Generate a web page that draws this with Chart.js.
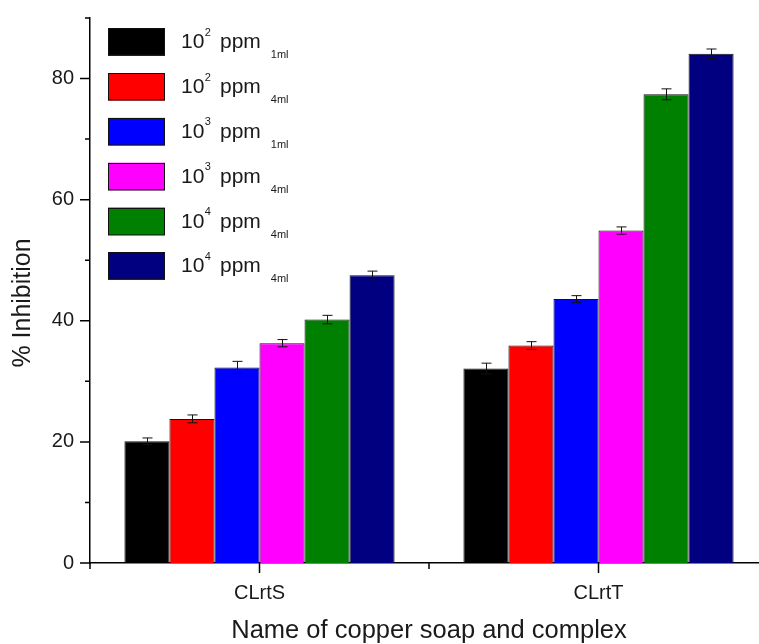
<!DOCTYPE html>
<html>
<head>
<meta charset="utf-8">
<script src="https://cdn.jsdelivr.net/npm/chart.js@4.4.1/dist/chart.umd.min.js"></script>
<style>
html,body{margin:0;padding:0;background:#fff;overflow:hidden;width:759px;height:644px;}
canvas{display:block;}
</style>
</head>
<body>
<canvas id="c" width="780" height="644"></canvas>
<script>
// ---- data ----
const categories = ['CLrtS', 'CLrtT'];
const exponents = ['2', '2', '3', '3', '4', '4'];
const volumes = ['1ml', '4ml', '1ml', '4ml', '4ml', '4ml'];
const ppm2_1ml = [20.1, 32.1];
const ppm2_4ml = [23.8, 35.9];
const ppm3_1ml = [32.3, 43.6];
const ppm3_4ml = [36.3, 54.9];
const ppm4_4mlA = [40.2, 77.4];
const ppm4_4mlB = [47.5, 84.1];
const err2_1ml = [0.55, 0.9];
const err2_4ml = [0.65, 0.65];
const err3_1ml = [1.0, 0.55];
const err3_4ml = [0.6, 0.6];
const err4_4mlA = [0.7, 0.9];
const err4_4mlB = [0.7, 0.78];
const yMajorTicks = [0, 20, 40, 60, 80];
const yMinorTicks = [10, 30, 50, 70, 90];
const xTitle = 'Name of copper soap and complex';
const yTitle = '% Inhibition';

const seriesValues = [ppm2_1ml, ppm2_4ml, ppm3_1ml, ppm3_4ml, ppm4_4mlA, ppm4_4mlB];
const seriesErrors = [err2_1ml, err2_4ml, err3_1ml, err3_4ml, err4_4mlA, err4_4mlB];
const colors = ['#000000', '#ff0000', '#0000ff', '#ff00ff', '#008000', '#000080'];

const FONT = '"Liberation Sans", Arial, sans-serif';

const datasets = seriesValues.map((vals, i) => ({
  label: '10^' + exponents[i] + ' ppm_' + volumes[i],
  data: vals,
  errors: seriesErrors[i],
  backgroundColor: colors[i],
  borderColor: '#111',
  borderWidth: 1,
  categoryPercentage: 0.797,
  barPercentage: 1.0
}));

const extras = {
  id: 'extras',
  afterDatasetsDraw(chart) {
    const ctx = chart.ctx;
    const ys = chart.scales.y;
    ctx.save();
    ctx.strokeStyle = '#111';
    ctx.lineWidth = 1;
    chart.data.datasets.forEach((ds, di) => {
      const meta = chart.getDatasetMeta(di);
      meta.data.forEach((bar, i) => {
        const v = ds.data[i], e = ds.errors[i];
        const yt = ys.getPixelForValue(v + e);
        const yb = ys.getPixelForValue(v - e);
        const x = Math.round(bar.x) + 0.5;
        ctx.beginPath();
        ctx.moveTo(x, yt); ctx.lineTo(x, yb);
        ctx.moveTo(x - 5, yt); ctx.lineTo(x + 5, yt);
        ctx.moveTo(x - 5, yb); ctx.lineTo(x + 5, yb);
        ctx.stroke();
      });
    });
    ctx.restore();
  },
  afterDraw(chart) {
    const ctx = chart.ctx;
    const ys = chart.scales.y, xs = chart.scales.x;
    const area = chart.chartArea;
    ctx.save();
    ctx.strokeStyle = '#000';
    ctx.lineWidth = 1.5;
    // y ticks
    ctx.beginPath();
    yMajorTicks.forEach(t => { const y = ys.getPixelForValue(t); ctx.moveTo(area.left - 10, y); ctx.lineTo(area.left, y); });
    yMinorTicks.forEach(t => { const y = ys.getPixelForValue(t); ctx.moveTo(area.left - 5, y); ctx.lineTo(area.left, y); });
    // x ticks
    categories.forEach((c, i) => {
      const x = xs.getPixelForValue(i);
      ctx.moveTo(x, area.bottom); ctx.lineTo(x, area.bottom + 10);
    });
    for (let i = 0; i <= categories.length; i++) {
      const x = xs.getPixelForValue(i - 0.5);
      ctx.moveTo(x, area.bottom); ctx.lineTo(x, area.bottom + 6);
    }
    ctx.stroke();

    // y axis title
    ctx.save();
    ctx.translate(23, 303);
    ctx.rotate(-Math.PI / 2);
    ctx.fillStyle = '#1a1a1a';
    ctx.font = '25px ' + FONT;
    ctx.textAlign = 'center';
    ctx.textBaseline = 'middle';
    ctx.fillText(yTitle, 0, 0);
    ctx.restore();

    // legend
    const bx = 108, by0 = 28.3, bw = 57, bh = 27.5, step = 44.8;
    chart.data.datasets.forEach((ds, i) => {
      const by = by0 + i * step;
      ctx.fillStyle = colors[i];
      ctx.fillRect(bx, by, bw, bh);
      ctx.lineWidth = 1;
      ctx.strokeStyle = '#111';
      ctx.strokeRect(bx + 0.5, Math.round(by) + 0.5, bw - 1, bh - 1);
      ctx.fillStyle = '#1a1a1a';
      ctx.textBaseline = 'alphabetic';
      ctx.textAlign = 'left';
      let x = 181;
      ctx.font = '21px ' + FONT;
      ctx.fillText('10', x, by + 20);
      x += ctx.measureText('10').width + 0.5;
      ctx.font = '11px ' + FONT;
      ctx.fillText(exponents[i], x, by + 7.5);
      x += ctx.measureText(exponents[i]).width;
      x = x + 9;
      ctx.font = '21px ' + FONT;
      ctx.fillText('ppm', x, by + 20);
      x += ctx.measureText('ppm').width + 10;
      ctx.font = '11px ' + FONT;
      ctx.fillText(volumes[i], x, by + 30);
    });
    ctx.restore();
  }
};

new Chart(document.getElementById('c'), {
  type: 'bar',
  data: { labels: categories, datasets },
  options: {
    responsive: false,
    animation: false,
    layout: { padding: { left: 0, right: 12, top: 18, bottom: 0 } },
    plugins: { legend: { display: false }, tooltip: { enabled: false } },
    scales: {
      x: {
        grid: { display: false },
        border: { display: true, color: '#000', width: 1.5 },
        ticks: { color: '#1a1a1a', font: { family: FONT, size: 20 }, padding: 10, maxRotation: 0 },
        title: { display: true, text: xTitle, color: '#1a1a1a', font: { family: FONT, size: 25.5 }, padding: { top: 0, bottom: -2 } },
        afterFit: s => { s.height = 81; s.paddingLeft = 0; s.paddingRight = 0; }
      },
      y: {
        min: 0, max: 90,
        grid: { display: false },
        border: { display: true, color: '#000', width: 1.5 },
        ticks: {
          stepSize: 10,
          color: '#1a1a1a',
          font: { family: FONT, size: 20 },
          padding: 8,
          callback: v => (yMajorTicks.includes(v) ? String(v) : '')
        },
        title: { display: false, text: yTitle },
        afterFit: s => { s.width = 90; s.paddingTop = 0; s.paddingBottom = 0; }
      }
    }
  },
  plugins: [extras]
});
</script>
</body>
</html>
